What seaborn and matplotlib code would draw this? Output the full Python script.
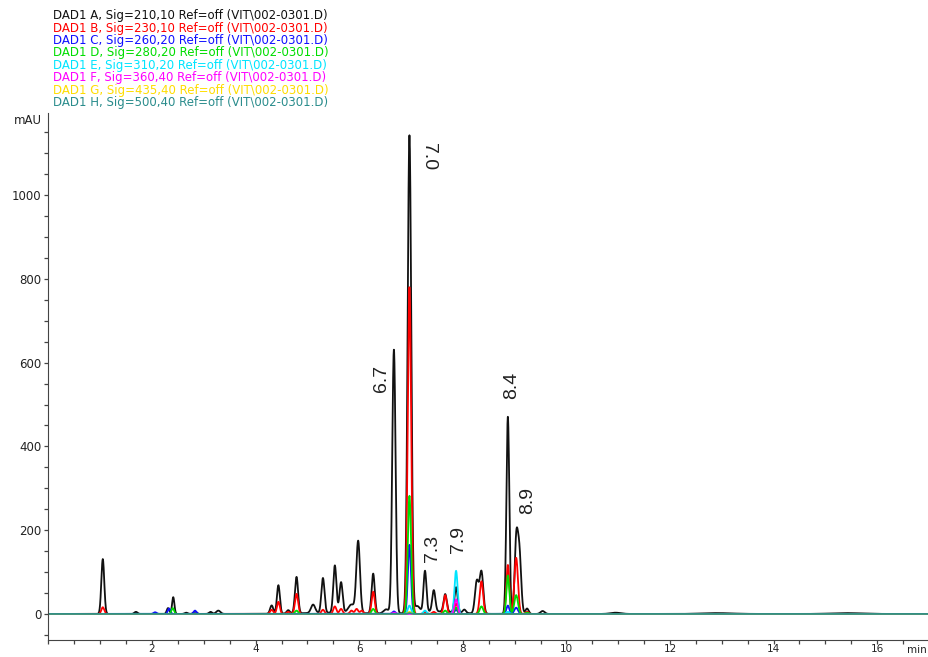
import numpy as np
import pandas as pd
import matplotlib
matplotlib.use("Agg")
import matplotlib.pyplot as plt
from matplotlib.ticker import MultipleLocator
import seaborn as sns

# ---- data: peak tables (retention time [min], height [mAU], sigma [min])
signals = ["A", "B", "C", "D", "E", "F", "G", "H"]
legend_labels = [
    "DAD1 A, Sig=210,10 Ref=off (VIT\\002-0301.D)",
    "DAD1 B, Sig=230,10 Ref=off (VIT\\002-0301.D)",
    "DAD1 C, Sig=260,20 Ref=off (VIT\\002-0301.D)",
    "DAD1 D, Sig=280,20 Ref=off (VIT\\002-0301.D)",
    "DAD1 E, Sig=310,20 Ref=off (VIT\\002-0301.D)",
    "DAD1 F, Sig=360,40 Ref=off (VIT\\002-0301.D)",
    "DAD1 G, Sig=435,40 Ref=off (VIT\\002-0301.D)",
    "DAD1 H, Sig=500,40 Ref=off (VIT\\002-0301.D)",
]
colors = ["#111111", "#ff0000", "#1010ff", "#00dd00", "#00e5ff", "#ff00ff", "#ffdd00", "#2a8c8c"]

rt_A = [1.05, 1.69, 2.31, 2.41, 2.66, 2.83, 3.13, 3.28, 4.31, 4.44, 4.63, 4.79, 5.11, 5.30, 5.53, 5.65,
        5.85, 5.98, 6.27, 6.52, 6.67, 6.97, 7.12, 7.27, 7.44, 7.66, 7.87, 8.03, 8.27, 8.36, 8.87, 9.03,
        9.09, 9.24, 9.54, 10.95, 12.9, 15.4, 5.5, 7.5]
h_A = [131, 5, 14, 40, 3, 6, 5, 8, 20, 68, 8, 87, 20, 83, 113, 73,
       20, 171, 95, 10, 630, 1140, 15, 98, 51, 42, 60, 8, 77, 100, 471, 160,
       150, 13, 7, 3, 2, 2, 3, 6]
w_A = [0.028, 0.03, 0.025, 0.022, 0.03, 0.03, 0.03, 0.04, 0.03, 0.028, 0.03, 0.03, 0.04, 0.03, 0.03, 0.03,
       0.06, 0.035, 0.03, 0.05, 0.032, 0.035, 0.05, 0.028, 0.03, 0.03, 0.03, 0.03, 0.035, 0.035, 0.028, 0.03,
       0.035, 0.03, 0.04, 0.1, 0.3, 0.3, 0.6, 0.4]

rt_B = [1.05, 4.31, 4.44, 4.63, 4.79, 5.30, 5.53, 5.65, 5.85, 5.95, 6.05, 6.27, 6.97, 7.27, 7.44, 7.66,
        7.87, 8.36, 8.87, 9.03, 9.24]
h_B = [16, 10, 29, 5, 48, 10, 18, 12, 8, 12, 8, 53, 780, 5, 5, 45,
       25, 78, 117, 134, 5]
w_B = [0.028, 0.03, 0.028, 0.03, 0.03, 0.03, 0.03, 0.03, 0.03, 0.03, 0.03, 0.03, 0.033, 0.03, 0.03, 0.03,
       0.03, 0.033, 0.028, 0.035, 0.03]

rt_C = [2.06, 2.33, 2.83, 6.67, 6.97, 7.87, 8.87, 9.03]
h_C = [4, 13, 8, 6, 165, 10, 20, 15]
w_C = [0.03, 0.025, 0.025, 0.03, 0.03, 0.03, 0.028, 0.035]

rt_D = [2.40, 4.79, 6.27, 6.97, 7.66, 7.87, 8.36, 8.87, 9.03, 9.24]
h_D = [14, 8, 12, 282, 8, 15, 18, 92, 45, 3]
w_D = [0.025, 0.03, 0.03, 0.032, 0.03, 0.03, 0.033, 0.028, 0.035, 0.03]

rt_E = [6.97, 7.27, 7.87, 8.87]
h_E = [20, 8, 103, 5]
w_E = [0.03, 0.03, 0.03, 0.03]

rt_F = [6.67, 7.87]
h_F = [3, 35]
w_F = [0.03, 0.03]

rt_G = [6.97]
h_G = [5]
w_G = [0.03]

rt_H = [6.97]
h_H = [2]
w_H = [0.03]

peak_tables = {
    "A": (rt_A, h_A, w_A), "B": (rt_B, h_B, w_B), "C": (rt_C, h_C, w_C), "D": (rt_D, h_D, w_D),
    "E": (rt_E, h_E, w_E), "F": (rt_F, h_F, w_F), "G": (rt_G, h_G, w_G), "H": (rt_H, h_H, w_H),
}

peak_labels = ["7.0", "6.7", "7.3", "7.9", "8.4", "8.9"]
label_x = [7.33, 6.44, 7.41, 7.91, 8.95, 9.26]
label_y = [1091, 563, 157, 177, 546, 272]
label_rot = [-90, 90, 90, 90, 90, 90]

# ---- build traces from peak tables
t = np.linspace(0, 17.2, 6000)
frames = []
for s in signals:
    rts, hs, ws = peak_tables[s]
    y = np.zeros_like(t)
    for r, h, w in zip(rts, hs, ws):
        y += h * np.exp(-0.5 * ((t - r) / w) ** 2)
    frames.append(pd.DataFrame({"time": t, "mAU": y, "signal": s}))
df = pd.concat(frames, ignore_index=True)

# ---- plot
sns.set_style("ticks")
plt.rcParams["font.family"] = ["DejaVu Sans"]

fig = plt.figure(figsize=(9.29, 6.57), dpi=100)
ax = fig.add_axes([48.4 / 929, 1 - 639.5 / 657, 1 - 48.4 / 929, (639.5 - 113) / 657])

sns.lineplot(data=df, x="time", y="mAU", hue="signal", hue_order=signals,
             palette=dict(zip(signals, colors)), estimator=None, sort=False,
             legend=False, linewidth=1.3, ax=ax)

ax.set_xlim(0, 17.0)
ax.set_ylim(-61, 1196)
ax.set_xlabel("")
ax.set_ylabel("")
sns.despine(ax=ax)
ax.spines["left"].set_color("#444444")
ax.spines["bottom"].set_color("#444444")

ax.xaxis.set_minor_locator(MultipleLocator(0.5))
ax.yaxis.set_minor_locator(MultipleLocator(50))
ax.set_xticks([2, 4, 6, 8, 10, 12, 14, 16])
ax.set_yticks([0, 200, 400, 600, 800, 1000])
ax.tick_params(axis="both", which="both", direction="out", length=2.8, width=0.9,
               color="#444444", labelcolor="#222222")
ax.tick_params(axis="y", labelsize=8.5, pad=2)
ax.tick_params(axis="x", labelsize=7.5, pad=0.5)

for lab, x, y, r in zip(peak_labels, label_x, label_y, label_rot):
    ax.text(x, y, lab, rotation=r, fontsize=14, ha="center", va="center", color="#222222",
            family="Liberation Sans")

# channel header text
for i, (lab, c) in enumerate(zip(legend_labels, colors)):
    fig.text(53 / 929, 1 - (15.7 + i * 12.4) / 657, lab, color=c, fontsize=8.5,
             ha="left", va="center")

fig.text(42 / 929, 1 - 120 / 657, "mAU", fontsize=8.5, ha="right", va="center", color="#222222")
fig.text(927 / 929, 1 - 650 / 657, "min", fontsize=7.5, ha="right", va="center", color="#222222")

fig.savefig("out.png", dpi=100)
